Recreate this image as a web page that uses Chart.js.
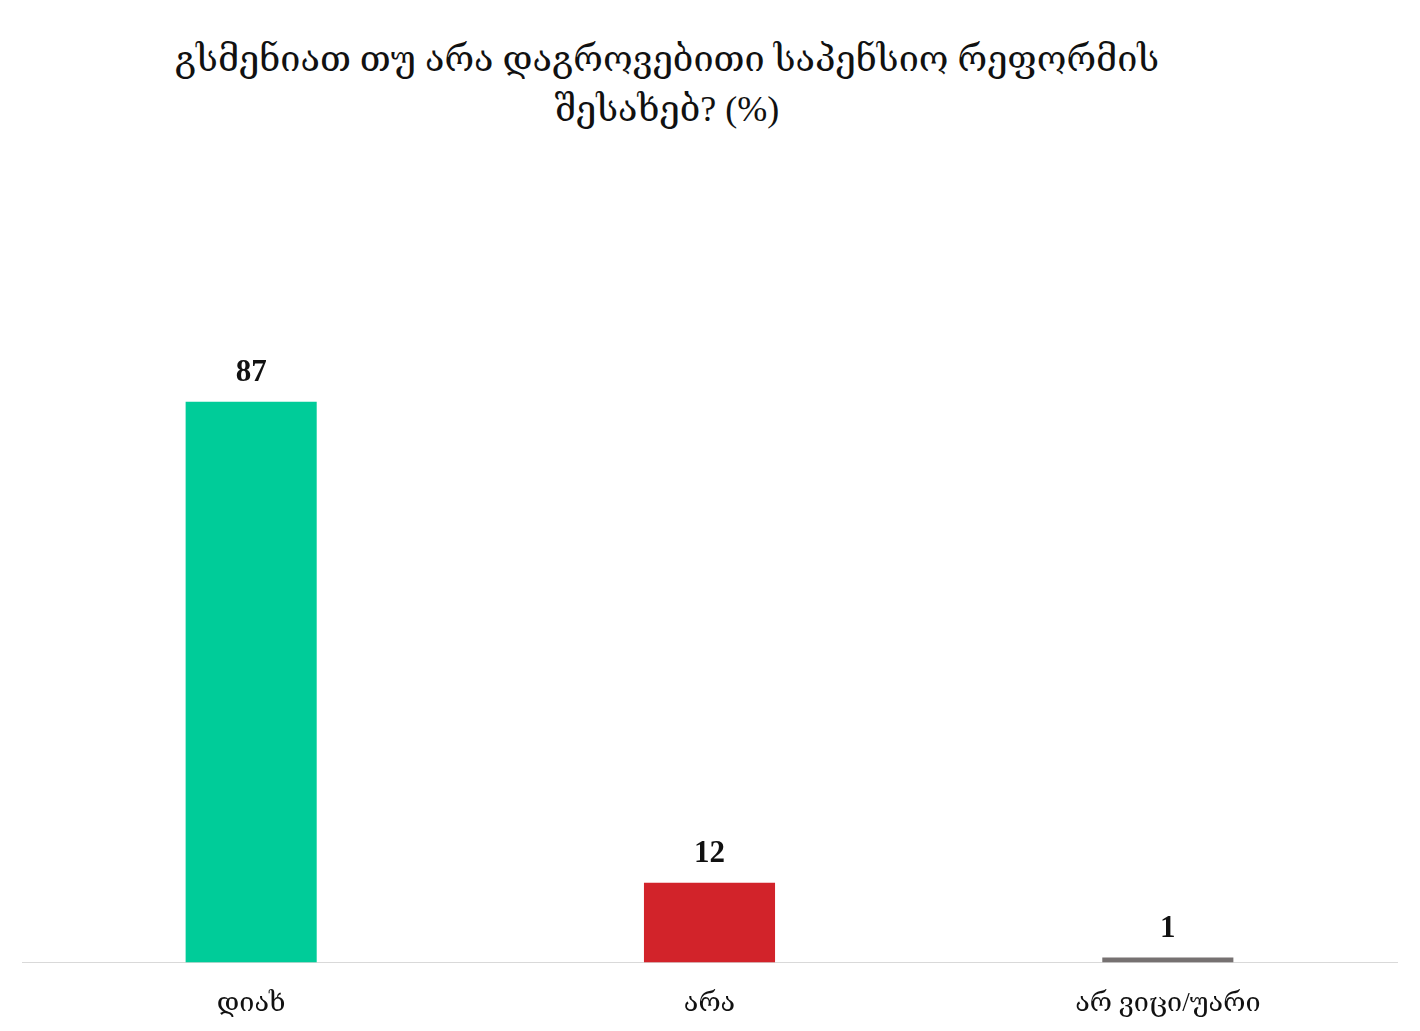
<!DOCTYPE html>
<html>
<head>
<meta charset="utf-8">
<script src="https://cdn.jsdelivr.net/npm/chart.js@4/dist/chart.umd.min.js"></script>
<style>
  html, body { margin: 0; padding: 0; background: #fff; overflow: hidden; }
  #wrap { position: relative; width: 1420px; height: 1031px; overflow: hidden; }
  #title {
    position: absolute; left: 0; top: 34px; width: 1334px;
    text-align: center; color: #111;
    font-family: "Liberation Serif", "DejaVu Serif", serif;
    font-size: 36px; line-height: 50px;
  }
  canvas { position: absolute; left: 0; top: 0; }
</style>
</head>
<body>
<div id="wrap">
  <div id="title">გსმენიათ თუ არა დაგროვებითი საპენსიო რეფორმის<br>შესახებ? (%)</div>
  <canvas id="chart" width="1420" height="1057"></canvas>
</div>
<script>
// chart data (bar heights, labels as printed)
const categories = ['დიახ', 'არა', 'არ ვიცი/უარი'];
const values = [87, 12.4, 0.8];
const valueText = ['87', '12', '1'];
const barColors = ['#00cc99', '#d2232a', '#767171'];

// value labels above bars
const valueLabels = {
  id: 'valueLabels',
  afterDatasetsDraw(chart) {
    const ctx = chart.ctx;
    const meta = chart.getDatasetMeta(0);
    ctx.save();
    ctx.font = 'bold 31px "Liberation Serif", serif';
    ctx.fillStyle = '#111';
    ctx.textAlign = 'center';
    ctx.textBaseline = 'bottom';
    meta.data.forEach((bar, i) => {
      ctx.fillText(valueText[i], bar.x, bar.y - 13);
    });
    ctx.restore();
  }
};

new Chart(document.getElementById('chart'), {
  type: 'bar',
  data: {
    labels: categories,
    datasets: [{
      data: values,
      backgroundColor: barColors,
      borderWidth: 0,
      categoryPercentage: 1,
      barPercentage: 0.286
    }]
  },
  options: {
    responsive: false,
    animation: false,
    layout: { padding: { top: 318, left: 22, right: 23, bottom: 20 } },
    plugins: {
      legend: { display: false },
      tooltip: { enabled: false }
    },
    scales: {
      x: {
        grid: { display: false },
        border: { display: true, color: '#d9d9d9', width: 1 },
        ticks: {
          color: '#111',
          padding: 17,
          font: { family: '"Liberation Serif", "DejaVu Serif", serif', size: 27 }
        }
      },
      y: {
        display: false,
        min: 0,
        max: 100
      }
    }
  },
  plugins: [valueLabels]
});
</script>
</body>
</html>
